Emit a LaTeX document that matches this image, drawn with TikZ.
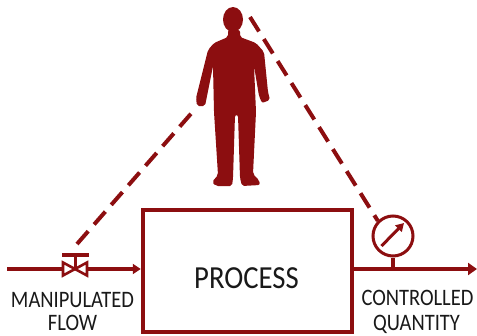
\documentclass[tikz,border=0pt]{standalone}
\usepackage{fontspec}
\usepackage{graphicx}
\setmainfont{Carlito}
\usetikzlibrary{arrows.meta}
\definecolor{dred}{RGB}{140,14,16}
\definecolor{txt}{RGB}{25,25,25}
\begin{document}
\begin{tikzpicture}[x=1pt,y=-1pt,
  flow/.style={draw=dred, line width=3.3pt},
  dashline/.style={draw=dred, line width=4pt, dash pattern=on 17pt off 9pt},
  lbl/.style={text=txt, anchor=base, inner sep=0pt, font=\fontsize{20.5}{22}\selectfont},
  procbox/.style={draw=dred, line width=4.5pt, minimum width=209pt, minimum height=122pt, inner sep=0pt}]
\useasboundingbox (0,0) rectangle (477,335);
% process box
\node[procbox] (box) at (247.5,271) {};
\node[text=txt, anchor=base, inner sep=0pt] (proc) at (246.5,288) {\scalebox{1}[1.12]{\fontsize{28.7}{30}\selectfont PROCESS}};
% named points
\coordinate (start) at (7,269);
\coordinate (valve) at (75,269);
\coordinate (valvetop) at (77,244);
\coordinate (boxin) at (box.west |- valve);
\coordinate (boxout) at (box.east |- valve);
\coordinate (tap) at (393,269);
\coordinate (finish) at (477,269);
\coordinate (hand) at (196,108);
\coordinate (head) at (250,17);
\node[circle, draw=dred, line width=3pt, minimum size=40pt, inner sep=0pt] (gauge) at (393,236) {};
% flows
\draw[flow] (start) -- (63,269);
\draw[flow, -{Triangle[length=8pt,width=10pt]}] (87,269) -- (boxin);
\draw[flow, -{Triangle[length=9pt,width=12pt]}] (boxout) -- (finish);
% valve
\draw[dred, line width=2.6pt, line join=miter] (63,262.5) -- (63,275.5) -- (valve) -- cycle;
\draw[dred, line width=2.6pt, line join=miter] (87,262.5) -- (87,275.5) -- (valve) -- cycle;
\draw[dred, line width=3pt] (valve) -- (75,255);
\draw[dred, line width=3.5pt] (62,255) -- (89,255);
% gauge stem and needle
\draw[flow] (gauge.south) -- (tap);
\draw[dred, line width=3pt, -{Triangle[length=8pt,width=9pt]}] (381.5,246) -- (404,223);
% dashed links
\draw[dashline] (valvetop) -- (hand);
\draw[dashline] (head) -- (gauge.north west);
% person
\fill[dred] (233,19.5) ellipse [x radius=10, y radius=12.5];
\fill[dred, rounded corners=2pt]
  (228,30) -- (228,37) -- (214,43) -- (208,50) -- (196,98) -- (197,106) -- (205,106)
  -- (207,96) -- (213,66) -- (214,112) -- (218,175) -- (212,182) -- (216,186)
  -- (232,186) -- (233,178) -- (235,115) -- (238,115) -- (240,178) -- (242,186)
  -- (260,185) -- (259,180) -- (253,174) -- (256,112) -- (254,66) -- (259,96)
  -- (262,103) -- (270,100) -- (268,92) -- (264,52) -- (256,43) -- (240,37) -- (240,30) -- cycle;
% labels
\node[lbl] (man) at (72.5,307) {\scalebox{1}[1.15]{MANIPULATED}};
\node[lbl] (flw) at (72.5,330) {\scalebox{1}[1.15]{FLOW}};
\node[lbl] (con) at (417.5,305) {\scalebox{1}[1.15]{CONTROLLED}};
\node[lbl] (qua) at (416.5,330) {\scalebox{1}[1.15]{QUANTITY}};
\end{tikzpicture}
\end{document}
